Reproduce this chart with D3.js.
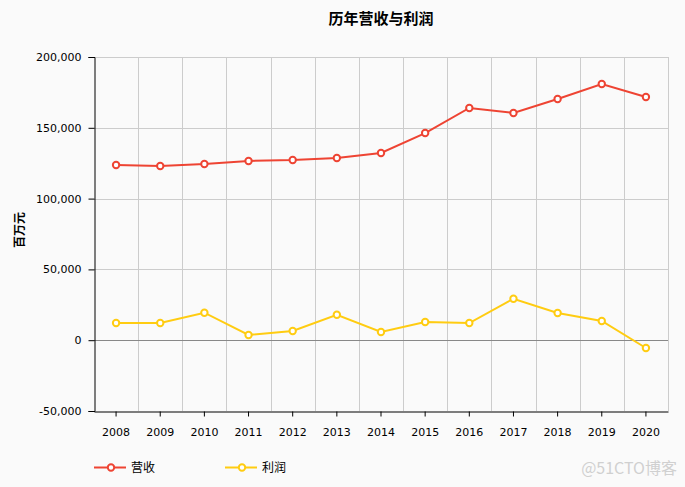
<!DOCTYPE html>
<html>
<head>
<meta charset="utf-8">
<script src="https://cdn.jsdelivr.net/npm/d3@7"></script>
<style>
  html, body { margin: 0; padding: 0; background: #fafafa; }
  svg { display: block; }
</style>
</head>
<body>
<div id="chart"></div>
<script>
const years = ["2008","2009","2010","2011","2012","2013","2014","2015","2016","2017","2018","2019","2020"];
const revenue = [123700, 123000, 124400, 126600, 127300, 128700, 132200, 146300, 164000, 160500, 170300, 180900, 171800];
const profit = [12100, 12100, 19400, 3700, 6500, 18000, 5800, 12900, 12100, 29300, 19200, 13600, -5500];
const yTicks = [-50000, 0, 50000, 100000, 150000, 200000];
const seriesNames = ["营收", "利润"];
const seriesColors = ["#ee4433", "#ffcc11"];

const W = 685, H = 487;
const margin = { left: 94, right: 17, top: 57, bottom: 76 };
const svg = d3.select("#chart").append("svg").attr("width", W).attr("height", H);
svg.append("rect").attr("width", W).attr("height", H).attr("fill", "#fafafa");

const x = d3.scaleBand().domain(years).range([margin.left, W - margin.right]);
const y = d3.scaleLinear().domain([-50000, 200000]).range([H - margin.bottom, margin.top]);

const tickFont = "'DejaVu Sans', Verdana, sans-serif";
const cjkFont = "'Noto Sans CJK SC', sans-serif";

// vertical grid lines at band boundaries
const bounds = years.map(d => x(d)).concat([W - margin.right]);
svg.append("g").selectAll("line").data(bounds.slice(1)).join("line")
  .attr("x1", d => Math.round(d) + 0.5).attr("x2", d => Math.round(d) + 0.5)
  .attr("y1", margin.top).attr("y2", H - margin.bottom)
  .attr("stroke", "#cccccc").attr("stroke-width", 1);

// horizontal grid lines
svg.append("g").selectAll("line").data(yTicks.filter(v => v !== -50000)).join("line")
  .attr("x1", margin.left).attr("x2", W - margin.right)
  .attr("y1", d => Math.round(y(d)) + 0.5).attr("y2", d => Math.round(y(d)) + 0.5)
  .attr("stroke", d => d === 0 ? "#888888" : "#cccccc").attr("stroke-width", 1);

// y axis
const fmt = d3.format(",");
const yAxis = d3.axisLeft(y).tickValues(yTicks).tickSize(6).tickPadding(7)
  .tickFormat(d => fmt(d).replace("\u2212", "-"));
const gy = svg.append("g").attr("transform", `translate(${margin.left + 0.5},0)`).call(yAxis);
gy.select(".domain").attr("stroke", "#000");
gy.selectAll(".tick line").attr("stroke", "#000");
gy.selectAll("text").attr("font-family", tickFont).attr("font-size", 11).attr("fill", "#000");

// x axis
const xAxis = d3.axisBottom(x).tickSize(5).tickPadding(12).tickSizeOuter(0);
const gx = svg.append("g").attr("transform", `translate(0,${H - margin.bottom + 0.5})`).call(xAxis);
gx.select(".domain").attr("stroke", "#000");
gx.selectAll(".tick line").attr("stroke", "#000");
gx.selectAll("text").attr("font-family", tickFont).attr("font-size", 11).attr("fill", "#000");

// title
svg.append("text").attr("x", 381).attr("y", 24).attr("text-anchor", "middle")
  .attr("font-family", cjkFont).attr("font-weight", "bold").attr("font-size", 15)
  .attr("fill", "#000").text("历年营收与利润");

// y axis title
svg.append("text").attr("transform", "translate(24,230) rotate(-90)").attr("text-anchor", "middle")
  .attr("font-family", cjkFont).attr("font-weight", "bold").attr("font-size", 12)
  .attr("fill", "#000").text("百万元");

// lines
const data = [revenue, profit];
const line = d3.line().x((d, i) => x(years[i]) + x.bandwidth() / 2).y(d => y(d));
data.forEach((vals, si) => {
  svg.append("path").datum(vals).attr("d", line).attr("fill", "none")
    .attr("stroke", seriesColors[si]).attr("stroke-width", 2);
  svg.append("g").selectAll("circle").data(vals).join("circle")
    .attr("cx", (d, i) => x(years[i]) + x.bandwidth() / 2).attr("cy", d => y(d))
    .attr("r", 3.2).attr("fill", "#fff").attr("stroke", seriesColors[si]).attr("stroke-width", 2);
});

// legend
const legendX = [94, 225];
seriesNames.forEach((name, si) => {
  const g = svg.append("g").attr("transform", `translate(${legendX[si]},467.5)`);
  g.append("line").attr("x1", 0).attr("x2", 32).attr("y1", 0).attr("y2", 0)
    .attr("stroke", seriesColors[si]).attr("stroke-width", 2);
  g.append("circle").attr("cx", 17).attr("cy", 0).attr("r", 3.2)
    .attr("fill", "#fff").attr("stroke", seriesColors[si]).attr("stroke-width", 2);
  g.append("text").attr("x", 37).attr("y", 4.5)
    .attr("font-family", cjkFont).attr("font-size", 12).attr("fill", "#000").text(name);
});

// watermark
svg.append("text").attr("x", 677).attr("y", 474).attr("text-anchor", "end")
  .attr("font-family", cjkFont).attr("font-size", 16).attr("fill", "#d0d0d0").text("@51CTO博客");
</script>
</body>
</html>
